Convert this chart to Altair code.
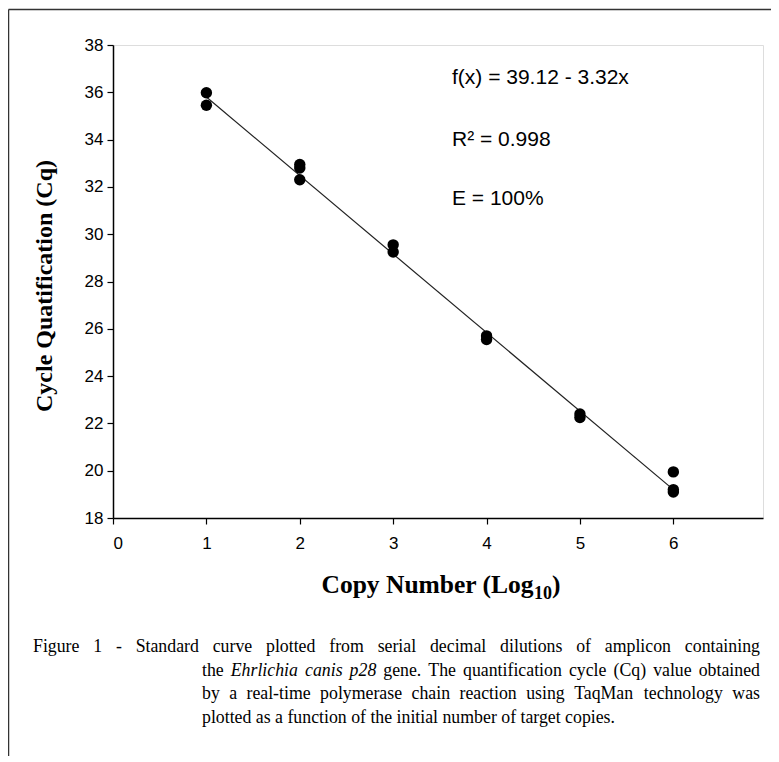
import altair as alt
import pandas as pd

# ---- data ----
copy_log = [1, 1, 2, 2, 2, 3, 3, 4, 4, 5, 5, 6, 6, 6]
cq_vals = [35.98, 35.45, 32.95, 32.80, 32.30, 29.55, 29.25, 25.70, 25.55, 22.40, 22.25, 19.95, 19.20, 19.10]
fit_x = [1, 6]
fit_y = [35.80, 19.20]
x_ticks = [0, 1, 2, 3, 4, 5, 6]
y_ticks = [18, 20, 22, 24, 26, 28, 30, 32, 34, 36, 38]
eq_text = ["f(x) = 39.12 - 3.32x", "R\u00b2 = 0.998", "E = 100%"]
x_title_main = "Copy Number (Log"
x_title_sub = "10"
x_title_end = ")"
y_title = "Cycle Quatification (Cq)"
cap_lines = [
    "Figure 1 - Standard curve plotted from serial decimal dilutions of amplicon containing",
    "the Ehrlichia canis p28 gene. The quantification cycle (Cq) value obtained",
    "by a real-time polymerase chain reaction using TaqMan technology was",
    "plotted as a function of the initial number of target  copies.",
]
italic_words = ["Ehrlichia", "canis", "p28"]

# ---- text metrics (Times-compatible widths, per 1000 em) for justified caption ----
ROMAN = dict(zip(" !\"#$%&'()*+,-./0123456789:;<=>?@",
                 [250, 333, 408, 500, 500, 833, 778, 333, 333, 333, 500, 564, 250, 333, 250, 278,
                  500, 500, 500, 500, 500, 500, 500, 500, 500, 500, 278, 278, 564, 564, 564, 444, 921]))
ROMAN.update(dict(zip("ABCDEFGHIJKLMNOPQRSTUVWXYZ",
                      [722, 667, 667, 722, 611, 556, 722, 722, 333, 389, 722, 611, 889, 722, 722, 556,
                       722, 667, 556, 611, 722, 722, 944, 722, 722, 611])))
ROMAN.update(dict(zip("abcdefghijklmnopqrstuvwxyz",
                      [444, 500, 444, 500, 444, 333, 500, 500, 278, 278, 500, 278, 778, 500, 500, 500,
                       500, 333, 389, 278, 500, 500, 722, 500, 500, 444])))
ITAL = dict(ROMAN)
ITAL.update(dict(zip("abcdefghijklmnopqrstuvwxyz",
                     [500, 500, 444, 500, 444, 278, 500, 500, 278, 278, 444, 278, 722, 500, 500, 500,
                      500, 389, 389, 278, 500, 444, 667, 444, 444, 389])))


def tw(s, size, table=ROMAN):
    return sum(table.get(c, 500) for c in s) * size / 1000.0


CAP_SIZE = 17.8
cap_left = [-80, 89, 89, 89]
cap_right = 647
cap_y = [602, 626, 649, 673]
justify = [True, True, True, False]

rows = []
for li, line in enumerate(cap_lines):
    words = line.split(" ")
    if justify[li]:
        widths = [tw(w, CAP_SIZE, ITAL if w in italic_words else ROMAN) for w in words]
        gap = (cap_right - cap_left[li] - sum(widths)) / (len(words) - 1)
        xpos = cap_left[li]
        for w, wd in zip(words, widths):
            rows.append({"w": w, "px": xpos, "py": cap_y[li], "it": w in italic_words})
            xpos += wd + gap
    else:
        rows.append({"w": line, "px": cap_left[li], "py": cap_y[li], "it": False})
cap_df = pd.DataFrame(rows)

pts = pd.DataFrame({"x": copy_log, "y": cq_vals})
fit = pd.DataFrame({"x": fit_x, "y": fit_y})
one = pd.DataFrame({"a": [0]})

W, H = 650, 473
xscale = alt.Scale(domain=[0, 6.96], nice=False, zero=False)
yscale = alt.Scale(domain=[18, 38], nice=False, zero=False)
TICKFONT = "Liberation Sans Narrow, Liberation Sans, Arial"

xaxis = alt.Axis(values=x_ticks, title=None, grid=False, tickSize=6, labelPadding=11,
                 labelFont=TICKFONT, labelFontSize=17, labelColor="black",
                 domainColor="black", tickColor="black", domainWidth=1.5, tickWidth=1.2,
                 format="d")
yaxis = alt.Axis(values=y_ticks, title=None, grid=False, tickSize=6, labelPadding=4,
                 labelFont=TICKFONT, labelFontSize=17, labelColor="black",
                 domainColor="black", tickColor="black", domainWidth=1.5, tickWidth=1.2,
                 format="d")

points = alt.Chart(pts).mark_circle(size=130, color="black", opacity=1).encode(
    x=alt.X("x:Q", scale=xscale, axis=xaxis),
    y=alt.Y("y:Q", scale=yscale, axis=yaxis),
)
line = alt.Chart(fit).mark_line(color="#222222", strokeWidth=1.2).encode(
    x=alt.X("x:Q", scale=xscale), y=alt.Y("y:Q", scale=yscale)
)


def txt(s, x, y, size, font="Liberation Sans", weight="normal", style="normal",
        align="left", angle=0, baseline="middle"):
    return alt.Chart(one).mark_text(
        align=align, baseline=baseline, font=font, fontSize=size, fontWeight=weight,
        fontStyle=style, color="black", angle=angle
    ).encode(x=alt.value(x), y=alt.value(y), text=alt.value(s))


eq_layers = [
    txt(eq_text[0], 339, 33, 21),
    txt(eq_text[1], 339, 95, 21),
    txt(eq_text[2], 339, 154, 21),
]

BOLD = dict(zip("Copy Number(Lg10)", [722, 500, 556, 500, 250, 722, 556, 833, 556, 444, 444, 333, 667, 500, 500, 500, 333]))
XT, XS = 25.5, 18
w_main = sum(BOLD.get(c, 500) for c in x_title_main) * XT / 1000
w_sub = sum(BOLD.get(c, 500) for c in x_title_sub) * XS / 1000
w_end = BOLD[")"] * XT / 1000
x0 = 328 - (w_main + w_sub + w_end) / 2
titles = [
    txt(x_title_main, x0, 548, XT, font="Liberation Serif", weight="bold", baseline="alphabetic"),
    txt(x_title_sub, x0 + w_main, 554, XS, font="Liberation Serif", weight="bold", baseline="alphabetic"),
    txt(x_title_end, x0 + w_main + w_sub, 548, XT, font="Liberation Serif", weight="bold", baseline="alphabetic"),
    txt(y_title, -68, 241, 24, font="Liberation Serif", weight="bold", align="center", angle=270),
]

cap_base = alt.Chart(cap_df).encode(
    x=alt.X("px:Q", scale=None), y=alt.Y("py:Q", scale=None), text="w:N")
cap_roman = cap_base.mark_text(align="left", baseline="middle", font="Liberation Serif",
                               fontSize=CAP_SIZE, color="black").transform_filter("!datum.it")
cap_ital = cap_base.mark_text(align="left", baseline="middle", font="Liberation Serif",
                              fontSize=CAP_SIZE, fontStyle="italic", color="black").transform_filter("datum.it")

frame_left = alt.Chart(one).mark_rule(color="#333333", strokeWidth=1.5).encode(
    x=alt.value(-104.5), y=alt.value(-35.5), y2=alt.value(730))
frame_top = alt.Chart(one).mark_rule(color="#333333", strokeWidth=1.5).encode(
    x=alt.value(-104.5), x2=alt.value(670), y=alt.value(-35.5))

chart = alt.layer(
    frame_left, frame_top, line, points, *eq_layers, *titles, cap_roman, cap_ital
).properties(
    width=W, height=H,
    padding={"left": 105, "top": 37, "right": 8, "bottom": 238},
    autosize=alt.AutoSizeParams(type="none"),
).configure_view(stroke=None).configure(background="white")

chart.save("out.html", embed_options={"renderer": "svg", "actions": False})
